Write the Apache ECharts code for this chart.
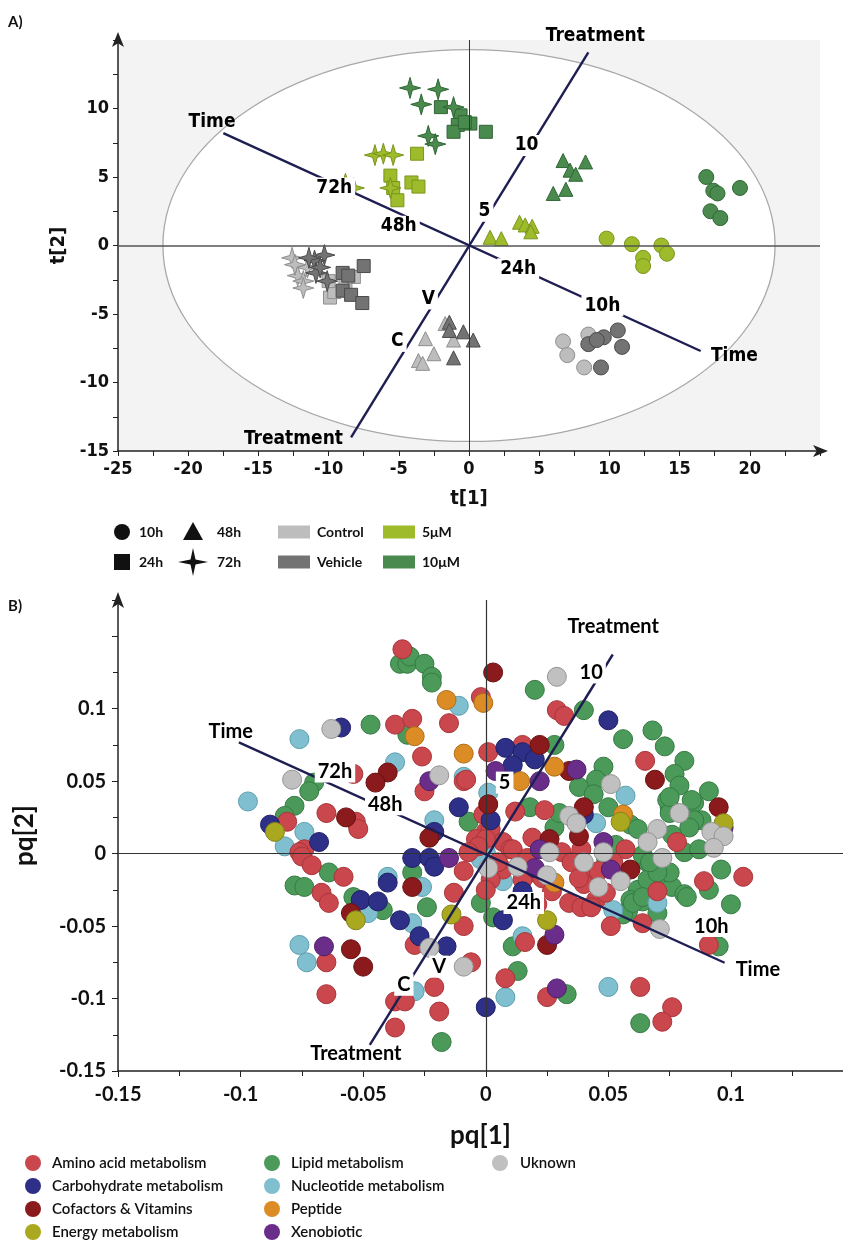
<!DOCTYPE html>
<html><head><meta charset="utf-8">
<script src="https://cdn.jsdelivr.net/npm/echarts@6/dist/echarts.min.js"></script>
<style>html,body{margin:0;padding:0;background:#fff}#c{width:843px;height:1240px}</style>
</head><body><div id="c"></div>
<script>
// ---------------- Panel A data (t[1], t[2]) ----------------
const timesA = ['10h','24h','48h','72h'];
const treatA = ['Control','Vehicle','5μM','10μM'];
const a10h_control = [[6.7,-7.0],[7.0,-8.0],[8.2,-8.9],[8.5,-6.5]];
const a10h_vehicle = [[8.5,-7.2],[9.6,-6.7],[10.6,-6.2],[10.9,-7.4],[9.4,-8.9],[9.1,-6.9]];
const a10h_5uM = [[9.8,0.5],[11.6,0.1],[13.7,0.0],[14.1,-0.6],[12.4,-0.9],[12.4,-1.5]];
const a10h_10uM = [[16.9,5.0],[17.4,4.0],[17.7,3.8],[19.3,4.2],[17.2,2.5],[17.9,2.0]];
const a24h_control = [[-9.9,-3.8],[-9.6,-3.4],[-8.8,-2.8],[-8.2,-2.3],[-10.0,-2.6]];
const a24h_vehicle = [[-7.5,-1.5],[-9.0,-2.0],[-8.6,-2.2],[-9.0,-3.3],[-8.4,-3.6],[-7.6,-4.2]];
const a24h_5uM = [[-3.7,6.7],[-5.6,5.1],[-4.1,4.6],[-3.6,4.3],[-5.4,4.2],[-5.1,3.3]];
const a24h_10uM = [[-2.0,10.1],[-0.6,9.5],[-0.8,8.8],[0.1,8.9],[-1.1,8.3],[1.2,8.3],[-0.3,9.0]];
const a48h_control = [[-3.1,-6.8],[-2.5,-7.9],[-3.6,-8.4],[-3.3,-8.6],[-1.7,-5.7],[-1.1,-6.9]];
const a48h_vehicle = [[-1.4,-5.6],[-1.4,-6.2],[-0.4,-6.3],[0.3,-6.9],[-1.1,-8.2]];
const a48h_5uM = [[1.5,0.6],[2.3,0.5],[3.6,1.7],[4.0,1.5],[4.5,1.4],[4.4,1.0]];
const a48h_10uM = [[6.7,6.2],[8.3,6.1],[7.2,5.5],[7.6,5.2],[6.0,3.8],[6.9,4.1]];
const a72h_control = [[-12.6,-0.9],[-12.2,-2.2],[-11.8,-2.6],[-11.5,-1.6],[-11.8,-3.1],[-12.4,-1.4]];
const a72h_vehicle = [[-10.3,-0.7],[-11.0,-1.1],[-10.9,-2.0],[-10.1,-2.6],[-11.4,-0.9],[-10.6,-1.6]];
const a72h_5uM = [[-6.7,6.6],[-6.1,6.7],[-5.4,6.6],[-8.8,4.5],[-8.2,4.2],[-5.6,4.2]];
const a72h_10uM = [[-4.2,11.5],[-2.2,11.4],[-3.4,10.3],[-1.1,10.1],[-2.9,8.0],[-2.4,7.4]];
const ellipseA = [[0,0,21.8,14.3]];
const timeLineA = [[-17.5,8.2],[16.5,-7.7]];
const treatLineA = [[-8.4,-14.0],[8.5,14.1]];
const labelTextA = ['Time','72h','48h','24h','10h','Time','Treatment','10','5','V','C','Treatment'];
const labelPosA = [[-18.3,9.0],[-9.6,4.2],[-5.0,1.4],[3.5,-1.7],[9.5,-4.4],[18.9,-8.1],[9.0,15.3],[4.1,7.3],[1.1,2.5],[-2.9,-3.9],[-5.1,-7.0],[-12.5,-14.1]];
const labelBoxA = [0,1,1,1,1,0,0,1,1,1,1,0];

// ---------------- Panel B data (pq[1], pq[2]) ----------------
const catB = ['Amino acid metabolism','Carbohydrate metabolism','Cofactors & Vitamins','Energy metabolism','Lipid metabolism','Nucleotide metabolism','Peptide','Xenobiotic','Uknown'];
const bAmino = [[-0.034,0.141],[-0.002,0.108],[-0.015,0.090],[-0.037,0.089],[-0.030,0.093],[-0.026,0.067],[0.001,0.070],[-0.054,0.055],[-0.025,0.043],[-0.009,0.050],[-0.081,0.022],[-0.065,0.028],[-0.053,0.022],[-0.052,0.017],[-0.074,0.003],[-0.076,0.001],[-0.001,0.027],[0.000,0.015],[-0.004,0.010],[0.029,0.099],[0.032,0.095],[0.065,0.064],[0.015,0.075],[-0.008,0.051],[0.024,0.030],[0.012,0.029],[0.002,0.017],[0.007,0.008],[0.000,0.010],[0.010,0.003],[0.039,0.003],[0.031,0.001],[0.035,-0.006],[0.042,-0.013],[0.057,0.003],[0.019,-0.013],[0.015,-0.018],[0.007,-0.011],[0.002,-0.018],[0.000,-0.025],[0.040,-0.021],[0.045,-0.032],[0.034,-0.034],[0.039,-0.037],[0.043,-0.037],[0.070,-0.026],[0.064,-0.048],[0.051,-0.050],[0.078,0.008],[0.089,-0.019],[0.105,-0.016],[0.091,-0.063],[0.016,-0.061],[-0.006,-0.075],[0.008,-0.086],[0.025,-0.099],[0.063,-0.092],[0.076,-0.106],[0.072,-0.116],[-0.013,-0.027],[-0.009,-0.050],[-0.009,-0.012],[-0.075,-0.002],[-0.071,-0.008],[-0.058,-0.016],[-0.067,-0.027],[-0.064,-0.034],[-0.029,-0.063],[-0.065,-0.075],[-0.065,-0.097],[-0.037,-0.102],[-0.033,-0.102],[-0.021,-0.092],[-0.019,-0.109],[-0.037,-0.120],[-0.003,0.005],[0.011,0.003],[0.023,-0.017],[0.049,-0.027],[0.038,-0.017],[-0.007,0.001],[0.019,0.011],[0.046,-0.012],[0.052,-0.006],[0.015,-0.028],[0.021,-0.035],[0.027,-0.026],[0.005,-0.006],[0.017,-0.003]];
const bCarbo = [[-0.059,0.087],[-0.088,0.020],[-0.068,0.008],[-0.011,0.032],[0.008,0.073],[0.015,0.070],[0.020,0.065],[0.050,0.092],[0.040,0.027],[0.002,0.023],[-0.030,-0.003],[-0.023,-0.003],[-0.021,-0.009],[-0.051,-0.032],[-0.044,-0.033],[-0.040,-0.020],[-0.035,-0.046],[-0.027,-0.057],[-0.016,-0.064],[0.007,-0.046],[0.015,-0.026],[0.000,-0.106],[-0.021,0.015],[0.011,0.061]];
const bCofactor = [[0.003,0.125],[-0.040,0.056],[-0.045,0.049],[-0.057,0.025],[0.022,0.075],[0.034,0.057],[0.069,0.051],[0.095,0.032],[0.040,0.032],[0.038,0.012],[0.001,0.034],[0.059,-0.011],[-0.023,0.011],[0.025,-0.063],[-0.030,-0.023],[-0.055,-0.041],[-0.055,-0.066],[-0.050,-0.078],[0.026,0.010]];
const bEnergy = [[-0.086,0.015],[0.055,0.022],[0.097,0.021],[-0.053,-0.046],[-0.014,-0.042],[0.025,-0.046]];
const bLipid = [[-0.035,0.131],[-0.032,0.131],[-0.031,0.136],[-0.025,0.131],[-0.022,0.122],[-0.022,0.118],[-0.032,0.082],[-0.047,0.089],[-0.070,0.049],[-0.072,0.043],[-0.078,0.033],[-0.082,0.026],[-0.007,0.022],[0.020,0.113],[0.040,0.099],[0.056,0.079],[0.068,0.085],[0.073,0.074],[0.081,0.064],[0.077,0.055],[0.079,0.047],[0.091,0.043],[0.028,0.075],[0.048,0.060],[0.045,0.051],[0.038,0.046],[0.044,0.041],[0.018,0.032],[0.050,0.032],[0.075,0.032],[0.085,0.035],[0.088,0.023],[0.074,0.037],[0.084,0.037],[0.075,0.028],[0.059,0.020],[0.028,0.018],[0.076,0.013],[0.081,0.001],[0.030,0.028],[0.062,0.017],[0.062,-0.025],[0.059,-0.032],[0.064,-0.033],[0.058,-0.040],[0.070,-0.041],[0.066,-0.006],[0.070,-0.012],[0.074,-0.015],[0.076,-0.023],[0.081,-0.028],[0.066,-0.018],[0.064,-0.001],[0.087,0.003],[0.085,0.023],[0.075,0.039],[0.083,0.018],[0.096,-0.011],[0.091,-0.025],[0.100,-0.035],[0.082,-0.030],[0.095,-0.064],[0.011,-0.064],[0.013,-0.081],[0.033,-0.097],[0.063,-0.117],[-0.018,-0.130],[-0.002,-0.034],[0.003,-0.044],[0.056,-0.042],[0.060,-0.034],[0.064,-0.030],[0.075,-0.013],[0.070,-0.013],[0.067,-0.006],[-0.064,-0.013],[-0.078,-0.022],[-0.074,-0.023],[-0.054,-0.030],[-0.042,-0.039],[-0.030,-0.013],[-0.024,-0.037],[0.053,0.006],[0.049,-0.003]];
const bNucleo = [[-0.011,0.102],[-0.076,0.079],[-0.037,0.063],[-0.009,0.053],[-0.097,0.036],[-0.074,0.015],[-0.082,0.005],[-0.021,0.023],[0.001,0.042],[0.057,0.040],[0.045,0.021],[0.007,-0.019],[0.052,-0.039],[0.070,-0.034],[0.015,-0.057],[0.008,-0.099],[0.050,-0.092],[-0.040,-0.016],[-0.048,-0.041],[-0.026,-0.023],[-0.030,-0.048],[-0.076,-0.063],[-0.073,-0.075],[-0.029,-0.095],[0.000,0.001],[-0.002,-0.004]];
const bPeptide = [[-0.016,0.106],[-0.001,0.104],[-0.029,0.081],[-0.009,0.069],[0.028,0.060],[0.014,0.050],[0.056,0.027],[0.028,-0.020]];
const bXeno = [[-0.023,0.050],[0.004,0.057],[0.037,0.058],[0.022,0.050],[0.097,0.018],[0.048,0.008],[0.022,0.003],[0.051,-0.011],[-0.015,-0.003],[0.028,-0.056],[0.029,-0.093],[-0.066,-0.064],[0.020,-0.010]];
const bUnknown = [[0.029,0.122],[-0.063,0.086],[-0.079,0.051],[-0.019,0.054],[0.051,0.048],[0.034,0.026],[0.037,0.021],[0.079,0.028],[0.070,0.017],[0.066,0.008],[0.092,0.015],[0.097,0.012],[0.093,0.004],[0.026,0.001],[0.048,0.001],[0.040,-0.006],[0.013,-0.009],[0.025,-0.015],[0.001,-0.010],[0.046,-0.023],[0.055,-0.019],[0.072,-0.003],[0.071,-0.052],[-0.023,-0.065],[-0.009,-0.078]];
const timeLineB = [[-0.1007,0.0767],[0.0974,-0.0753]];
const treatLineB = [[-0.0473,-0.1319],[0.0518,0.1374]];
const labelTextB = ['Time','72h','48h','24h','10h','Time','Treatment','10','5','V','C','Treatment'];
const labelPosB = [[-0.104,0.084],[-0.0615,0.0566],[-0.041,0.034],[0.0155,-0.034],[0.092,-0.050],[0.111,-0.080],[0.052,0.157],[0.043,0.125],[0.0077,0.049],[-0.019,-0.078],[-0.0334,-0.0905],[-0.053,-0.138]];
const labelBoxB = [0,1,1,1,1,0,0,1,1,1,1,0];

// ---------------- styling ----------------
const NARROW = "'Liberation Sans Narrow','DejaVu Sans Condensed','Liberation Sans',sans-serif";
const CAL = "Lato,'Open Sans',sans-serif";
const colA = {Control:['#bdbdbd','#8f8f8f'], Vehicle:['#737373','#4a4a4a'], '5μM':['#9dbb2a','#7a951c'], '10μM':['#4a8a4e','#2f6634']};
const STAR = 'path://M0,-10 L2.2,-2.2 L10,0 L2.2,2.2 L0,10 L-2.2,2.2 L-10,0 L-2.2,-2.2 Z';
const shapeA = {'10h':['circle',15],'24h':['rect',13],'48h':['triangle',14],'72h':[STAR,21]};
const dataA = {
  '10h':{Control:a10h_control,Vehicle:a10h_vehicle,'5μM':a10h_5uM,'10μM':a10h_10uM},
  '24h':{Control:a24h_control,Vehicle:a24h_vehicle,'5μM':a24h_5uM,'10μM':a24h_10uM},
  '48h':{Control:a48h_control,Vehicle:a48h_vehicle,'5μM':a48h_5uM,'10μM':a48h_10uM},
  '72h':{Control:a72h_control,Vehicle:a72h_vehicle,'5μM':a72h_5uM,'10μM':a72h_10uM}
};
const colB = ['#c9474d','#2e2f86','#8a1a1c','#a9a81f','#4b9a5a','#80bfcf','#db8c24','#6a2d8a','#c0c0c0'];
const bordB = ['#a8353a','#1f2066','#6a1012','#85841a','#357a43','#5c9fae','#b06e18','#4f1f6a','#959595'];
const dataB = [bAmino,bCarbo,bCofactor,bEnergy,bLipid,bNucleo,bPeptide,bXeno,bUnknown];
const drawOrderB = [4,5,0,1,2,6,7,3,8];

const labelStyle = (fam, size) => ({show:true, position:'inside', formatter:p=>p.name, fontFamily:fam, fontWeight:'bold',
  fontSize:size, color:'#000', opacity:1, textBorderWidth:0, textBorderColor:'transparent', textShadowBlur:0, padding:[1,3]});

const series = [];
series.push({type:'custom', xAxisIndex:0, yAxisIndex:0, data:ellipseA, z:1, silent:true,
  renderItem:(params, api)=>{
    const c = api.coord([api.value(0), api.value(1)]);
    const s = api.size([api.value(2), api.value(3)]);
    return {type:'ellipse', shape:{cx:c[0], cy:c[1], rx:s[0], ry:s[1]}, style:{fill:'#ffffff', stroke:'#a8a8a8', lineWidth:1.3}};
  }});
series.push({type:'line', xAxisIndex:0, yAxisIndex:0, data:[], z:2, silent:true,
  markLine:{silent:true, symbol:'none', label:{show:false}, animation:false,
    data:[{xAxis:0, lineStyle:{color:'#333', width:1, type:'solid'}},{yAxis:0, lineStyle:{color:'#555', width:1.6, type:'solid'}}]}});
timesA.forEach(t=>{
  treatA.forEach(gk=>{
    series.push({type:'scatter', xAxisIndex:0, yAxisIndex:0, name:t+' '+gk, data:dataA[t][gk],
      symbol:shapeA[t][0], symbolSize:shapeA[t][1], z:4,
      itemStyle:{color:colA[gk][0], borderColor:colA[gk][1], borderWidth:1, opacity:1}});
  });
});
[timeLineA, treatLineA].forEach(d=>series.push({type:'line', xAxisIndex:0, yAxisIndex:0, data:d, symbol:'none', z:6, silent:true,
  lineStyle:{color:'#1e1e52', width:2.4}}));
series.push({type:'scatter', xAxisIndex:0, yAxisIndex:0, z:8, clip:false, silent:true, symbolSize:1,
  itemStyle:{color:'rgba(0,0,0,0)'},
  data: labelTextA.map((t,i)=>({name:t, value:labelPosA[i], label:{backgroundColor: labelBoxA[i] ? '#ffffff' : 'transparent'}})),
  label:labelStyle(NARROW, 19)});

series.push({type:'line', xAxisIndex:1, yAxisIndex:1, data:[], z:2, silent:true,
  markLine:{silent:true, symbol:'none', label:{show:false}, animation:false,
    data:[{xAxis:0, lineStyle:{color:'#333', width:1.2, type:'solid'}},{yAxis:0, lineStyle:{color:'#333', width:1.2, type:'solid'}}]}});
drawOrderB.forEach(k=>{
  series.push({type:'scatter', xAxisIndex:1, yAxisIndex:1, name:catB[k], data:dataB[k], symbol:'circle', symbolSize:19, z:4,
    itemStyle:{color:colB[k], borderColor:bordB[k], borderWidth:1, opacity:1}});
});
[timeLineB, treatLineB].forEach(d=>series.push({type:'line', xAxisIndex:1, yAxisIndex:1, data:d, symbol:'none', z:6, silent:true,
  lineStyle:{color:'#1e1e52', width:2.4}}));
series.push({type:'scatter', xAxisIndex:1, yAxisIndex:1, z:8, clip:false, silent:true, symbolSize:1,
  itemStyle:{color:'rgba(0,0,0,0)'},
  data: labelTextB.map((t,i)=>({name:t, value:labelPosB[i], label:{backgroundColor: labelBoxB[i] ? '#ffffff' : 'transparent'}})),
  label:labelStyle(CAL, 20)});

// ---------------- axes ----------------
const axLine = {onZero:false, lineStyle:{color:'#222', width:1.5}};
const xA = {gridIndex:0, type:'value', min:-25, max:25, interval:5,
  axisLine:Object.assign({symbol:['none','arrow'], symbolSize:[9,15], symbolOffset:[0,8]}, axLine),
  axisTick:{show:true, length:5, lineStyle:{color:'#222'}}, minorTick:{show:true, splitNumber:2, length:5, lineStyle:{color:'#222'}},
  splitLine:{show:false}, minorSplitLine:{show:false},
  axisLabel:{showMaxLabel:false, fontFamily:NARROW, fontWeight:'bold', fontSize:18, color:'#111', margin:9},
  name:'t[1]', nameLocation:'middle', nameGap:38, nameTextStyle:{fontFamily:NARROW, fontWeight:'bold', fontSize:20, color:'#111'}};
const yA = {gridIndex:0, type:'value', min:-15, max:15, interval:5,
  axisLine:Object.assign({symbol:['none','arrow'], symbolSize:[9,15], symbolOffset:[0,8]}, axLine),
  axisTick:{show:true, length:5, lineStyle:{color:'#222'}}, minorTick:{show:true, splitNumber:2, length:5, lineStyle:{color:'#222'}},
  splitLine:{show:false},
  axisLabel:{showMaxLabel:false, fontFamily:NARROW, fontWeight:'bold', fontSize:18, color:'#111', margin:9},
  name:'t[2]', nameLocation:'middle', nameGap:47, nameTextStyle:{fontFamily:NARROW, fontWeight:'bold', fontSize:20, color:'#111'}};
const fmtB = v => v > 0.11 ? '' : String(parseFloat(v.toFixed(3)));
const xB = {gridIndex:1, type:'value', min:-0.15, max:0.1457, interval:0.05,
  axisLine:axLine,
  axisTick:{show:true, length:6, lineStyle:{color:'#222'}}, minorTick:{show:true, splitNumber:2, length:5, lineStyle:{color:'#222'}},
  splitLine:{show:false},
  axisLabel:{formatter:fmtB, showMaxLabel:false, fontFamily:CAL, fontWeight:'bold', fontSize:20, color:'#111', margin:14},
  name:'pq[1]', nameLocation:'middle', nameGap:52, nameTextStyle:{fontFamily:CAL, fontWeight:'bold', fontSize:26, color:'#111'}};
const yB = {gridIndex:1, type:'value', min:-0.15, max:0.175, interval:0.05,
  axisLine:Object.assign({symbol:['none','arrow'], symbolSize:[9,16], symbolOffset:[0,8]}, axLine),
  axisTick:{show:true, length:6, lineStyle:{color:'#222'}}, minorTick:{show:true, splitNumber:2, length:5, lineStyle:{color:'#222'}},
  splitLine:{show:false},
  axisLabel:{formatter:fmtB, showMaxLabel:false, fontFamily:CAL, fontWeight:'bold', fontSize:20, color:'#111', margin:12},
  name:'pq[2]', nameLocation:'middle', nameGap:80, nameTextStyle:{fontFamily:CAL, fontWeight:'bold', fontSize:26, color:'#111'}};

// ---------------- legends (graphic) ----------------
const g = [];
const txt = (x,y,t,font)=>({type:'text', x:x, y:y, style:{text:t, font:font, fill:'#111', verticalAlign:'middle'}});
g.push(txt(8,22,'A)','bold 15px '+CAL));
g.push(txt(8,606,'B)','bold 15px '+CAL));
const LF = 'bold 14px '+CAL;
const r1 = 532, r2 = 562;
g.push({type:'circle', shape:{cx:122, cy:r1, r:8}, style:{fill:'#111'}});
g.push(txt(139,r1,'10h',LF));
g.push({type:'polygon', shape:{points:[[193,r1-10],[203,r1+8],[183,r1+8]]}, style:{fill:'#111'}});
g.push(txt(217,r1,'48h',LF));
g.push({type:'rect', shape:{x:114, y:r2-8, width:16, height:16}, style:{fill:'#111'}});
g.push(txt(139,r2,'24h',LF));
g.push({type:'polygon', shape:{points:[[193,r2-14],[195.5,r2-2.5],[208,r2],[195.5,r2+2.5],[193,r2+14],[190.5,r2+2.5],[178,r2],[190.5,r2-2.5]]}, style:{fill:'#111'}});
g.push(txt(217,r2,'72h',LF));
[['Control',278,r1],['5μM',383,r1],['Vehicle',278,r2],['10μM',383,r2]].forEach(([n,x,y])=>{
  g.push({type:'rect', shape:{x:x, y:y-6.5, width:32, height:13}, style:{fill:colA[n][0]}});
  g.push(txt(x+39,y,n,LF));
});
const colX = [[33,52],[272,291],[500,520]];
const rowY = [1163,1186,1209,1232];
catB.forEach((n,k)=>{
  const c = Math.floor(k/4), r = k%4;
  g.push({type:'circle', shape:{cx:colX[c][0], cy:rowY[r], r:8}, style:{fill:colB[k]}});
  g.push(txt(colX[c][1], rowY[r], n, '600 15px '+CAL));
});

const chart = echarts.init(document.getElementById('c'), null, {renderer:'canvas'});
chart.setOption({
  animation:false,
  backgroundColor:'#ffffff',
  grid:[
    {left:118, top:40, width:702, height:411, show:true, backgroundColor:'#f3f3f3', borderWidth:0},
    {left:118, top:600, width:725, height:471, show:false}
  ],
  xAxis:[xA, xB],
  yAxis:[yA, yB],
  series:series,
  graphic:g
});
</script></body></html>
